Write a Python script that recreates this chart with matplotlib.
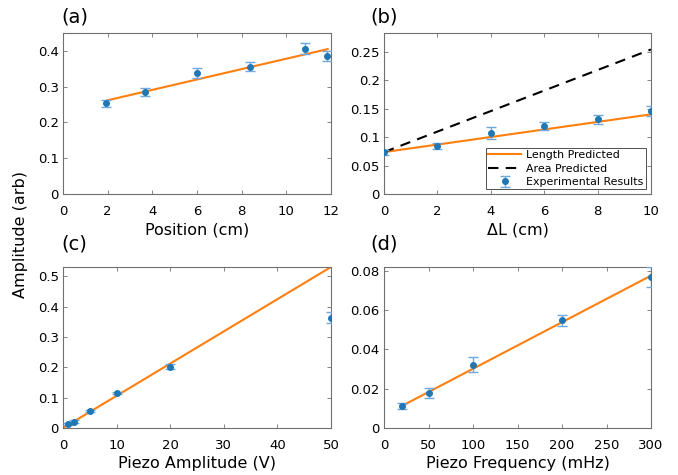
import matplotlib
matplotlib.use("Agg")
import matplotlib.pyplot as plt

plt.rcParams['font.family'] = ['DejaVu Sans']

# (a) Position
a_x = [1.94, 3.66, 5.98, 8.37, 10.84, 11.84]
a_y = [0.253, 0.285, 0.337, 0.356, 0.406, 0.387]
a_err = [0.0106, 0.010, 0.014, 0.0125, 0.016, 0.014]
a_fit_x = [2.0, 11.85]
a_fit_y = [0.262, 0.405]

# (b) Delta L
b_x = [0, 2, 4, 6, 8, 10]
b_y = [0.073, 0.085, 0.107, 0.120, 0.131, 0.146]
b_err = [0.005, 0.0055, 0.010, 0.007, 0.008, 0.009]
b_len_x = [0, 10]
b_len_y = [0.0736, 0.140]
b_area_x = [0, 10]
b_area_y = [0.0736, 0.254]

# (c) Piezo amplitude
c_x = [1, 2, 5, 10, 20, 50]
c_y = [0.012, 0.021, 0.057, 0.115, 0.202, 0.364]
c_err = [0.003, 0.004, 0.004, 0.004, 0.008, 0.017]
c_fit_x = [0, 50]
c_fit_y = [0.0, 0.531]

# (d) Piezo frequency
d_x = [20, 50, 100, 200, 300]
d_y = [0.0114, 0.0177, 0.0323, 0.0548, 0.0769]
d_err = [0.0015, 0.0025, 0.0037, 0.003, 0.0053]
d_fit_x = [20, 300]
d_fit_y = [0.0112, 0.0776]

ORANGE = '#ff7f0e'
BLUE = '#1f77b4'
ERRC = '#6fa8dc'
FRAME = '#707070'
TICKFS = 9.5
LABFS = 11.5

W, H = 678, 475
fig = plt.figure(figsize=(W / 100, H / 100), dpi=100)

def ax_at(l, t, r, b):
    return fig.add_axes([l / W, 1 - b / H, (r - l) / W, (b - t) / H])

axA = ax_at(63, 33, 331, 194)
axB = ax_at(384, 33, 651, 194)
axC = ax_at(63, 267, 331, 428)
axD = ax_at(384, 267, 651, 428)

def style(ax):
    for s in ax.spines.values():
        s.set_color(FRAME)
        s.set_linewidth(0.8)
    ax.tick_params(direction='in', top=True, right=True, color=FRAME,
                   labelsize=TICKFS, length=3, width=0.6)
    ax.tick_params(axis='x', pad=8)
    ax.tick_params(axis='y', pad=3)

def errpts(ax, x, y, e):
    return ax.errorbar(x, y, yerr=e, fmt='o', color=BLUE, ms=4.0,
                       ecolor=ERRC, elinewidth=1.0, capsize=3.8, capthick=1.0,
                       zorder=3)

# (a)
axA.plot(a_fit_x, a_fit_y, color=ORANGE, lw=1.5, zorder=2)
errpts(axA, a_x, a_y, a_err)
axA.set_xlim(0, 12)
axA.set_ylim(0, 0.45)
axA.set_xticks([0, 2, 4, 6, 8, 10, 12])
axA.set_yticks([0, 0.1, 0.2, 0.3, 0.4])
axA.set_yticklabels(['0', '0.1', '0.2', '0.3', '0.4'])
axA.set_xlabel('Position (cm)', fontsize=LABFS, labelpad=3)
style(axA)

# (b)
lenl, = axB.plot(b_len_x, b_len_y, color=ORANGE, lw=1.5, zorder=2)
areal, = axB.plot(b_area_x, b_area_y, color='black', lw=1.5, ls=(0, (5, 3.5)), zorder=2)
eb = errpts(axB, b_x, b_y, b_err)
axB.set_xlim(0, 10)
axB.set_ylim(0, 0.283)
axB.set_xticks([0, 2, 4, 6, 8, 10])
axB.set_yticks([0, 0.05, 0.1, 0.15, 0.2, 0.25])
axB.set_yticklabels(['0', '0.05', '0.1', '0.15', '0.2', '0.25'])
axB.set_xlabel('\u0394L (cm)', fontsize=LABFS, labelpad=3)
style(axB)
leg = axB.legend([lenl, areal, eb], ['Length Predicted', 'Area Predicted', 'Experimental Results'],
                 loc='lower right', fontsize=7.9, frameon=True, fancybox=False,
                 borderpad=0.2, labelspacing=0.3, handlelength=3.0, handletextpad=0.5,
                 borderaxespad=0.45)
leg.get_frame().set_edgecolor('black')
leg.get_frame().set_linewidth(0.6)

# (c)
axC.plot(c_fit_x, c_fit_y, color=ORANGE, lw=1.5, zorder=2)
errpts(axC, c_x, c_y, c_err)
axC.set_xlim(0, 50)
axC.set_ylim(0, 0.531)
axC.set_xticks([0, 10, 20, 30, 40, 50])
axC.set_yticks([0, 0.1, 0.2, 0.3, 0.4, 0.5])
axC.set_yticklabels(['0', '0.1', '0.2', '0.3', '0.4', '0.5'])
axC.set_xlabel('Piezo Amplitude (V)', fontsize=LABFS, labelpad=3)
style(axC)

# (d)
axD.plot(d_fit_x, d_fit_y, color=ORANGE, lw=1.5, zorder=2)
errpts(axD, d_x, d_y, d_err)
axD.set_xlim(0, 300)
axD.set_ylim(0, 0.082)
axD.set_xticks([0, 50, 100, 150, 200, 250, 300])
axD.set_yticks([0, 0.02, 0.04, 0.06, 0.08])
axD.set_yticklabels(['0', '0.02', '0.04', '0.06', '0.08'])
axD.set_xlabel('Piezo Frequency (mHz)', fontsize=LABFS, labelpad=3)
style(axD)

# panel labels
fig.text(61 / W, 1 - 17 / H, '(a)', fontsize=14, va='center', ha='left')
fig.text(370 / W, 1 - 17 / H, '(b)', fontsize=14, va='center', ha='left')
fig.text(61 / W, 1 - 244 / H, '(c)', fontsize=14, va='center', ha='left')
fig.text(370 / W, 1 - 244 / H, '(d)', fontsize=14, va='center', ha='left')

fig.text(21 / W, 1 - 235 / H, 'Amplitude (arb)', fontsize=LABFS, rotation=90,
         va='center', ha='center')

fig.savefig('out.png', dpi=100)
